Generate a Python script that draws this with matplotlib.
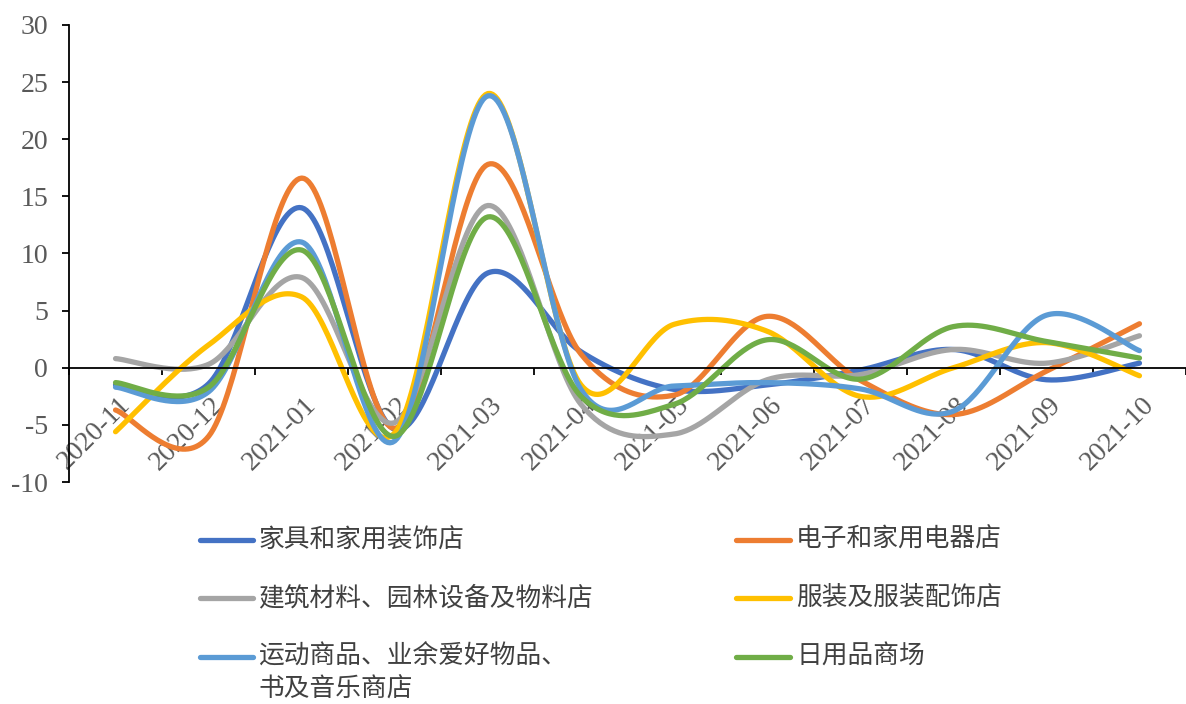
import numpy as np
import matplotlib
matplotlib.use('Agg')
import matplotlib.pyplot as plt
import matplotlib.transforms as mtransforms
from matplotlib.lines import Line2D

# Monthly change by store type (%)
months = ['2020-11', '2020-12', '2021-01', '2021-02', '2021-03', '2021-04',
          '2021-05', '2021-06', '2021-07', '2021-08', '2021-09', '2021-10']
furniture = [-1.5, -1.4, 14.0, -5.4, 8.3, 1.4, -1.9, -1.5, -0.2, 1.6, -1.05, 0.4]
electronics = [-3.7, -6.0, 16.6, -5.3, 17.8, 1.2, -2.4, 4.5, -1.1, -4.1, -0.3, 3.85]
building = [0.8, 0.3, 7.9, -4.8, 14.2, -3.2, -5.8, -1.05, -0.6, 1.6, 0.4, 2.8]
clothing = [-5.6, 2.0, 6.2, -5.7, 24.0, -1.5, 3.8, 3.2, -2.5, 0.0, 2.2, -0.7]
sports = [-1.7, -2.1, 11.0, -6.4, 23.8, -1.9, -1.6, -1.3, -1.85, -3.8, 4.6, 1.5]
general = [-1.3, -1.7, 10.3, -6.0, 13.2, -2.5, -3.2, 2.45, -1.0, 3.6, 2.3, 0.85]

series = [
    ('家具和家用装饰店', furniture, '#4472C4'),
    ('电子和家用电器店', electronics, '#ED7D31'),
    ('建筑材料、园林设备及物料店', building, '#A5A5A5'),
    ('服装及服装配饰店', clothing, '#FFC000'),
    ('运动商品、业余爱好物品、\n书及音乐商店', sports, '#5B9BD5'),
    ('日用品商场', general, '#70AD47'),
]


def smooth(x, y, n=40):
    # cubic bezier through each point, tangent from neighbours (spreadsheet style)
    x = np.asarray(x, float)
    y = np.asarray(y, float)
    px = np.concatenate([[x[0]], x, [x[-1]]])
    py = np.concatenate([[y[0]], y, [y[-1]]])
    t = np.linspace(0, 1, n)[:, None]
    xs, ys = [], []
    for i in range(len(x) - 1):
        p0 = np.array([x[i], y[i]])
        p3 = np.array([x[i + 1], y[i + 1]])
        p1 = p0 + (np.array([px[i + 2], py[i + 2]]) - np.array([px[i], py[i]])) / 6
        p2 = p3 - (np.array([px[i + 3], py[i + 3]]) - np.array([px[i + 1], py[i + 1]])) / 6
        b = ((1 - t) ** 3) * p0 + 3 * ((1 - t) ** 2) * t * p1 + 3 * (1 - t) * t ** 2 * p2 + t ** 3 * p3
        xs.append(b[:, 0])
        ys.append(b[:, 1])
    return np.concatenate(xs), np.concatenate(ys)


fig = plt.figure(figsize=(11.86, 7.04), dpi=100)
ax = fig.add_axes([69 / 1186, 222 / 704, (1186 - 69) / 1186, 457 / 704])

xpos = np.arange(len(months))
for name, vals, color in series:
    sx, sy = smooth(xpos, vals)
    ax.plot(sx, sy, color=color, lw=3.8, solid_capstyle='round', clip_on=False)

ax.set_ylim(-10, 30)
ax.set_xlim(-0.5, (1186 - 69) / 93.8 - 0.5)
ax.set_yticks(np.arange(-10, 31, 5))

for s in ['top', 'right']:
    ax.spines[s].set_visible(False)
ax.spines['bottom'].set_position(('data', 0))
ax.spines['left'].set_linewidth(1.3)
ax.spines['bottom'].set_linewidth(1.3)

tick_font = dict(family='Liberation Serif', size=20, color='#595959')
ax.set_xticks(xpos)
ax.set_xticks(np.arange(-0.5, len(months), 1), minor=True)
ax.tick_params(axis='x', which='major', length=0, pad=22)
ax.tick_params(axis='x', which='minor', length=5, width=1.3, direction='out')
ax.set_yticklabels([str(v) for v in range(-10, 31, 5)], fontdict=tick_font)
ax.tick_params(axis='y', length=5, width=1.3, direction='out', pad=10)

# month labels sit diagonally just under the zero line
ax.set_xticklabels(months, rotation=45, ha='right', va='center',
                   rotation_mode='anchor', fontdict=tick_font)
shift = mtransforms.ScaledTranslation(11 / 100, -3 / 100, fig.dpi_scale_trans)
for lab in ax.get_xticklabels():
    lab.set_transform(lab.get_transform() + shift)

# legend drawn below the plot in two columns
cjk = ['Noto Sans CJK SC', 'DejaVu Sans']
rows = [540, 598, 657]
cols = [(200, 253, 258), (736, 790, 796)]
for k, (name, vals, color) in enumerate(series):
    r, c = k // 2, k % 2
    x0, x1, xt = cols[c]
    yf = 1 - rows[r] / 704
    fig.add_artist(Line2D([x0 / 1186, x1 / 1186], [yf, yf], color=color,
                          lw=3.8, solid_capstyle='round'))
    for j, part in enumerate(name.split('\n')):
        fig.text(xt / 1186, 1 - (rows[r] + 33 * j) / 704, part, family=cjk,
                 size=18.5, color='#404040', ha='left', va='center')

fig.savefig('out.png', dpi=100)
